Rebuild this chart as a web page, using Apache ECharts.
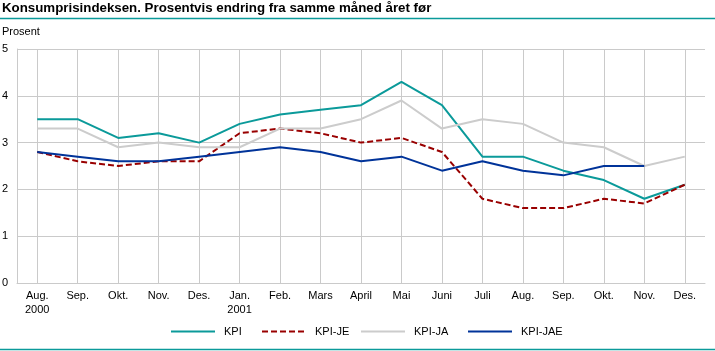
<!DOCTYPE html>
<html>
<head>
<meta charset="utf-8">
<script src="https://cdn.jsdelivr.net/npm/echarts@6/dist/echarts.min.js"></script>
<style>
  html, body { margin: 0; padding: 0; background: #fff; }
  #chart { width: 715px; height: 351px; }
</style>
</head>
<body>
<div id="chart"></div>
<script>
  // måneder aug. 2000 - des. 2001
  const months = ['Aug.\n2000', 'Sep.', 'Okt.', 'Nov.', 'Des.', 'Jan.\n2001', 'Feb.', 'Mars', 'April',
    'Mai', 'Juni', 'Juli', 'Aug.', 'Sep.', 'Okt.', 'Nov.', 'Des.']
  const kpi = [3.5, 3.5, 3.1, 3.2, 3.0, 3.4, 3.6, 3.7, 3.8, 4.3, 3.8, 2.7, 2.7, 2.4, 2.2, 1.8, 2.1]
  const kpiJE = [2.8, 2.6, 2.5, 2.6, 2.6, 3.2, 3.3, 3.2, 3.0, 3.1, 2.8, 1.8, 1.6, 1.6, 1.8, 1.7, 2.1]
  const kpiJA = [3.3, 3.3, 2.9, 3.0, 2.9, 2.9, 3.3, 3.3, 3.5, 3.9, 3.3, 3.5, 3.4, 3.0, 2.9, 2.5, 2.7]
  const kpiJAE = [2.8, 2.7, 2.6, 2.6, 2.7, 2.8, 2.9, 2.8, 2.6, 2.7, 2.4, 2.6, 2.4, 2.3, 2.5, 2.5, null]

  const font = 'Liberation Sans, Arial, sans-serif'
  const gridColor = '#cacaca'
  const teal = '#0b9a9a'

  // en legend per serie, så plasseringen blir lik originalen
  const legendPos = [
    { name: 'KPI', left: 170 },
    { name: 'KPI-JE', left: 261 },
    { name: 'KPI-JA', left: 360 },
    { name: 'KPI-JAE', left: 467 }
  ]

  const chart = echarts.init(document.getElementById('chart'))
  chart.setOption({
    animation: false,
    title: [
      {
        text: 'Konsumprisindeksen. Prosentvis endring fra samme måned året før',
        left: 2,
        top: 2,
        padding: 0,
        textStyle: { fontFamily: font, fontSize: 13.3, fontWeight: 'bold', color: '#000' }
      },
      {
        text: 'Prosent',
        left: 2,
        top: 26,
        padding: 0,
        textStyle: { fontFamily: font, fontSize: 11, fontWeight: 'normal', color: '#000' }
      }
    ],
    graphic: [
      { type: 'line', shape: { x1: 0, y1: 18.5, x2: 715, y2: 18.5 }, style: { stroke: teal, lineWidth: 1.5 } },
      { type: 'line', shape: { x1: 0, y1: 349.5, x2: 715, y2: 349.5 }, style: { stroke: teal, lineWidth: 1.5 } }
    ],
    legend: legendPos.map((l) => ({
      data: [l.name],
      left: l.left,
      top: 326,
      padding: 0,
      itemWidth: 44,
      itemHeight: 14,
      itemStyle: { opacity: 0 },
      textStyle: { fontFamily: font, fontSize: 11, color: '#000', padding: [0, 0, 0, 4] }
    })),
    grid: { left: 17, right: 10, top: 49, bottom: 68, outerBoundsMode: 'none' },
    xAxis: {
      type: 'category',
      data: months,
      boundaryGap: true,
      axisLine: { lineStyle: { color: gridColor, width: 1 } },
      // bruker lange tick-streker som vertikale rutenettlinjer midt på hver kategori
      axisTick: {
        show: true,
        alignWithLabel: true,
        inside: true,
        length: 234,
        interval: 0,
        lineStyle: { color: gridColor, width: 1 }
      },
      splitLine: { show: false },
      axisLabel: {
        interval: 0,
        margin: 6,
        fontFamily: font,
        fontSize: 11,
        lineHeight: 14,
        color: '#000'
      }
    },
    yAxis: {
      type: 'value',
      min: 0,
      max: 5,
      interval: 1,
      axisLine: { show: true, lineStyle: { color: gridColor, width: 1 } },
      axisTick: { show: false },
      splitLine: { lineStyle: { color: gridColor, width: 1 } },
      axisLabel: { margin: 9, fontFamily: font, fontSize: 11, color: '#000' }
    },
    series: [
      {
        name: 'KPI',
        type: 'line',
        data: kpi,
        symbol: 'none',
        lineStyle: { color: teal, width: 2 },
        itemStyle: { color: teal }
      },
      {
        name: 'KPI-JE',
        type: 'line',
        data: kpiJE,
        symbol: 'none',
        lineStyle: { color: '#990000', width: 2, type: [6, 3] },
        itemStyle: { color: '#990000' }
      },
      {
        name: 'KPI-JA',
        type: 'line',
        data: kpiJA,
        symbol: 'none',
        lineStyle: { color: '#cccccc', width: 2 },
        itemStyle: { color: '#cccccc' }
      },
      {
        name: 'KPI-JAE',
        type: 'line',
        data: kpiJAE,
        symbol: 'none',
        lineStyle: { color: '#003399', width: 2 },
        itemStyle: { color: '#003399' }
      }
    ]
  })
</script>
</body>
</html>
